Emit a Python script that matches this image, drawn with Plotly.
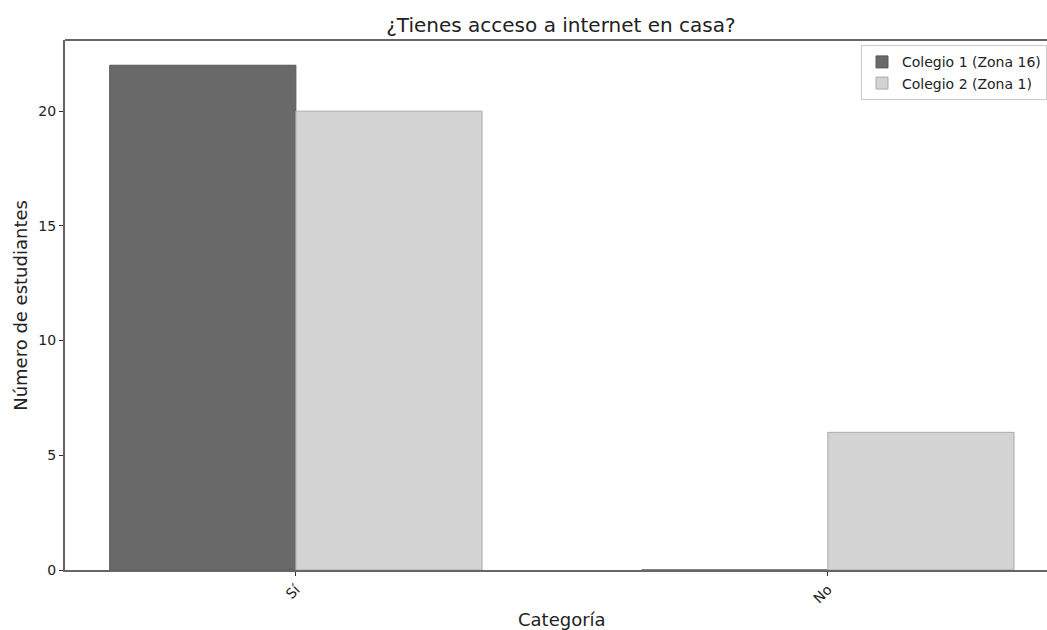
import plotly.graph_objects as go

# Datos de la encuesta
categorias = ['Sí', 'No']
colegio_1 = [22, 0]
colegio_2 = [20, 6]
nombres = ['Colegio 1 (Zona 16)', 'Colegio 2 (Zona 1)']

fig = go.Figure()
fig.add_trace(go.Bar(x=categorias, y=colegio_1, name=nombres[0],
                     marker=dict(color='#696969', line=dict(color='#5a5a5a', width=1))))
fig.add_trace(go.Bar(x=categorias, y=colegio_2, name=nombres[1],
                     marker=dict(color='#d3d3d3', line=dict(color='#ababab', width=1))))

fig.update_layout(
    width=1047, height=630,
    barmode='group', bargap=0.3, bargroupgap=0,
    paper_bgcolor='white', plot_bgcolor='white',
    font=dict(family='DejaVu Sans', size=14, color='#222222'),
    margin=dict(l=65, r=0, t=40, b=60, autoexpand=False),
    title=dict(text='¿Tienes acceso a internet en casa?', xref='paper', x=0.505, xanchor='center',
               yref='container', y=0.96, yanchor='middle', font=dict(size=20)),
    legend=dict(x=1.0, xanchor='right', y=0.99, yanchor='top',
                bordercolor='#cccccc', borderwidth=1, bgcolor='white',
                font=dict(size=14), tracegroupgap=0),
    showlegend=True,
)
fig.update_xaxes(range=[-0.434, 1.412], showline=True, linecolor='#666666', linewidth=2,
                 ticks='outside', ticklen=4, tickcolor='#333333', tickangle=-45,
                 showgrid=False, zeroline=False, automargin=False)
fig.update_yaxes(range=[0, 23.1], tickvals=[0, 5, 10, 15, 20], showline=True,
                 linecolor='#666666', linewidth=2, ticks='outside', ticklen=4,
                 tickcolor='#333333', showgrid=False, zeroline=False, automargin=False)
# borde superior del área de dibujo
fig.add_shape(type='line', xref='paper', yref='paper', x0=0, x1=1, y0=1, y1=1,
              line=dict(color='#666666', width=2))
# títulos de los ejes
fig.add_annotation(text='Categoría', xref='x', yref='paper', x=0.5, y=-0.0925,
                   showarrow=False, yanchor='middle', font=dict(size=18))
fig.add_annotation(text='Número de estudiantes', xref='paper', yref='paper',
                   x=-0.046, y=0.5, textangle=-90, showarrow=False,
                   xanchor='center', yanchor='middle', font=dict(size=18))

# quitar el margen del body para que el gráfico ocupe toda la ventana
fig.write_html("out.html", config={'displayModeBar': False},
               post_script="document.body.style.margin='0';")
